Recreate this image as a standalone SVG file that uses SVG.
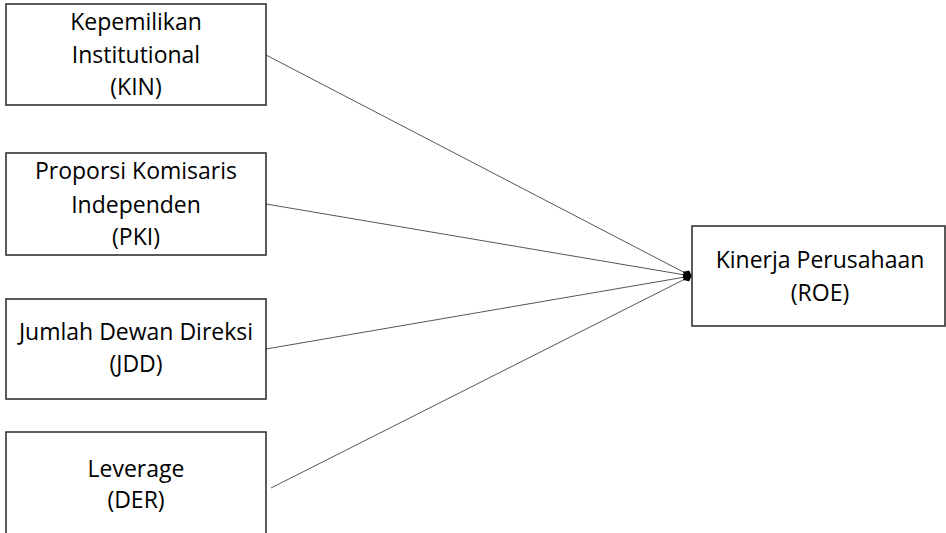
<svg xmlns="http://www.w3.org/2000/svg" width="946" height="533" viewBox="0 0 946 533">
<style>
.box{fill:#fff;stroke:#333;stroke-width:1.6}
.t{font-family:"Open Sans","Liberation Sans",sans-serif;font-size:23px;fill:#000;text-anchor:middle}
.c{stroke:#555;stroke-width:1;fill:none;marker-end:url(#head)}
</style>
<defs>
<marker id="head" viewBox="0 0 10 10" refX="9" refY="5" markerWidth="10" markerHeight="10" markerUnits="userSpaceOnUse" orient="auto">
<path d="M0,5 L5,1 L10,5 L5,9 Z" fill="#000"/>
</marker>
</defs>
<rect width="946" height="533" fill="#fff"/>
<g id="connectors">
<line class="c" x1="266" y1="55" x2="691" y2="276"/>
<line class="c" x1="266" y1="204" x2="691" y2="276"/>
<line class="c" x1="266" y1="349" x2="691" y2="276"/>
<line class="c" x1="271" y1="488" x2="691" y2="276"/>
</g>
<g id="kin">
<rect class="box" x="6" y="4" width="260" height="101"/>
<text class="t" x="136" y="30">Kepemilikan</text>
<text class="t" x="136" y="63">Institutional</text>
<text class="t" x="136" y="95">(KIN)</text>
</g>
<g id="pki">
<rect class="box" x="6" y="153" width="260" height="102"/>
<text class="t" x="136" y="179">Proporsi Komisaris</text>
<text class="t" x="136" y="213">Independen</text>
<text class="t" x="136" y="245">(PKI)</text>
</g>
<g id="jdd">
<rect class="box" x="6" y="299" width="260" height="100"/>
<text class="t" x="136" y="340">Jumlah Dewan Direksi</text>
<text class="t" x="136" y="372">(JDD)</text>
</g>
<g id="der">
<rect class="box" x="6" y="432" width="260" height="110"/>
<text class="t" x="136" y="477">Leverage</text>
<text class="t" x="136" y="508">(DER)</text>
</g>
<g id="roe">
<rect class="box" x="692" y="226" width="253" height="100"/>
<text class="t" x="820" y="268">Kinerja Perusahaan</text>
<text class="t" x="820" y="301">(ROE)</text>
</g>
</svg>
